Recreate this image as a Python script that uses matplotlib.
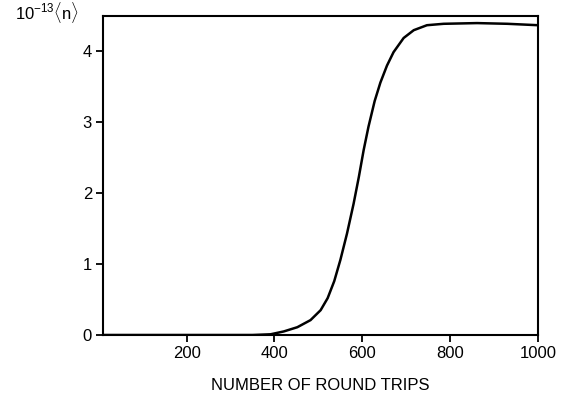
import matplotlib
matplotlib.use("Agg")
import matplotlib.pyplot as plt

plt.rcParams["font.family"] = ["Liberation Sans", "DejaVu Sans"]
plt.rcParams["mathtext.fontset"] = "custom"
plt.rcParams["mathtext.rm"] = "Liberation Sans"
plt.rcParams["mathtext.it"] = "Liberation Sans"

# curve
round_trips = [10, 200, 350, 391, 421, 452, 482, 505, 521, 536, 550, 565,
               580, 592, 603, 614, 628, 641, 656, 671, 694, 717, 747, 785,
               861, 930, 1000]
photons = [0.0, 0.0, 0.0, 0.01, 0.05, 0.11, 0.21, 0.35, 0.52, 0.76, 1.06,
           1.43, 1.85, 2.23, 2.61, 2.94, 3.30, 3.56, 3.80, 3.99, 4.19, 4.30,
           4.37, 4.39, 4.40, 4.39, 4.37]

x_ticks = [200, 400, 600, 800, 1000]
y_ticks = [0, 1, 2, 3, 4]

fig = plt.figure(figsize=(5.7, 4.0), dpi=100)
ax = fig.add_axes([0.181, 0.1625, 0.763, 0.7975])

ax.plot(round_trips, photons, color="black", linewidth=1.8,
        solid_joinstyle="round")

ax.set_xlim(10, 1000)
ax.set_ylim(0, 4.5)
ax.set_xticks(x_ticks)
ax.set_yticks(y_ticks)
ax.tick_params(direction="out", length=5, width=1.3, labelsize=12,
               colors="black", pad=3)

for spine in ax.spines.values():
    spine.set_linewidth(1.5)

ax.set_xlabel("NUMBER OF ROUND TRIPS", fontsize=12, labelpad=12)
fig.text(0.027, 0.953, r"10$^{-13}$$\langle$n$\rangle$", fontsize=12,
         ha="left", va="baseline")

fig.savefig("out.png", dpi=100)
